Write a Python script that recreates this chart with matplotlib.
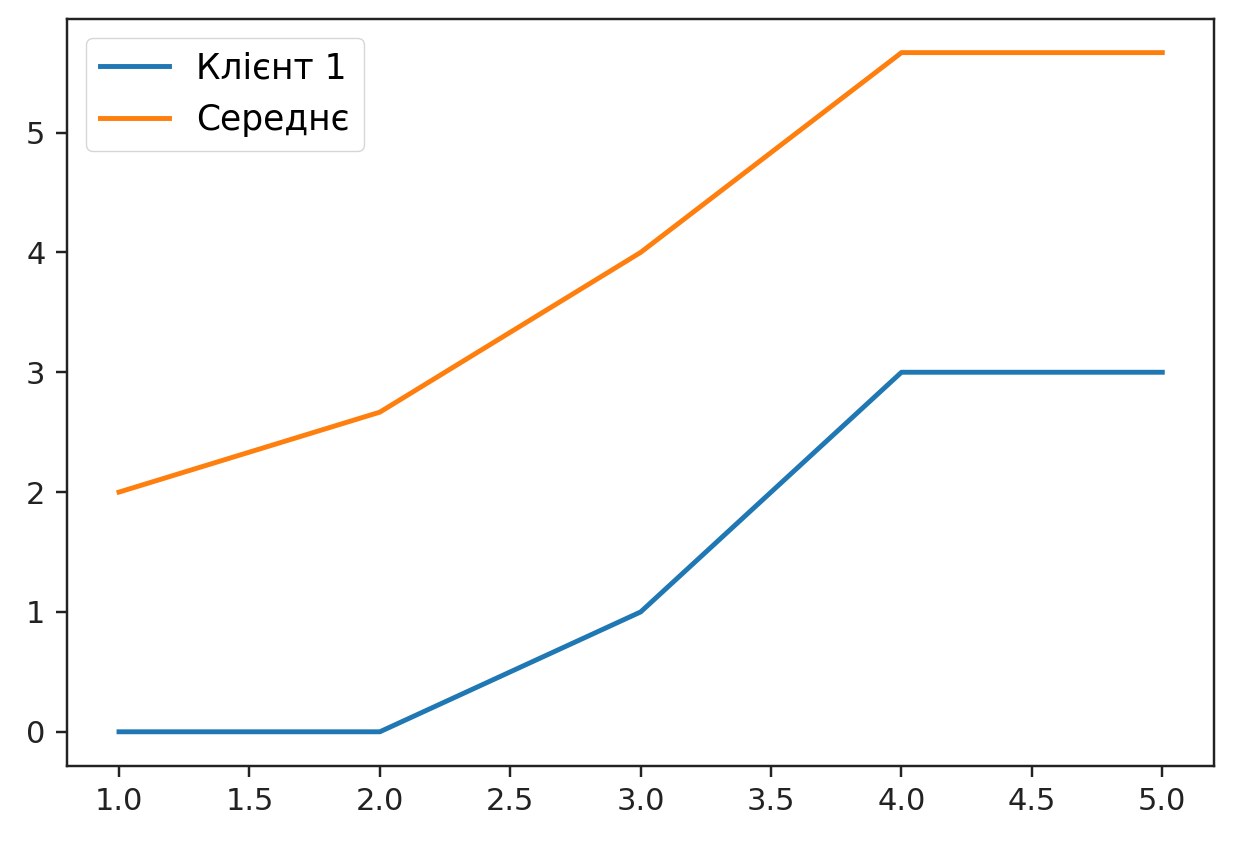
import matplotlib
matplotlib.use("Agg")
import matplotlib.pyplot as plt

# data
x = [1, 2, 3, 4, 5]
client1 = [0, 0, 1, 3, 3]
average = [2, 2.667, 4, 5.667, 5.667]

# reference is a small notebook figure scaled up ~3x
s = 2.2  # points multiplier at dpi 100

fig = plt.figure(figsize=(12.38, 8.48), dpi=100)
ax = fig.add_axes([0.054, 0.097, 0.927, 0.881])

ax.plot(x, client1, color='#1f77b4', linewidth=1.6 * s, label='Клієнт 1')
ax.plot(x, average, color='#ff7f0e', linewidth=1.6 * s, label='Середнє')

ax.tick_params(labelsize=10 * s, length=3.5 * s, width=0.8 * s, pad=3.5 * s,
               colors='#222222')
for sp in ax.spines.values():
    sp.set_linewidth(0.8 * s)
    sp.set_color('#222222')

ax.legend(loc='upper left', fontsize=11.3 * s, frameon=True,
          borderaxespad=0.55)

fig.savefig('out.png', dpi=100)
